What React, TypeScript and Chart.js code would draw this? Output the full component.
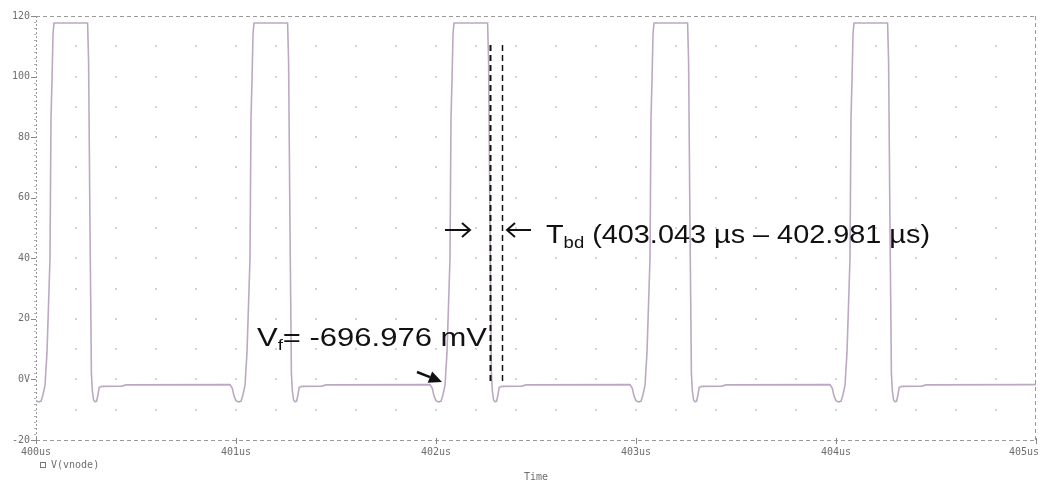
import React, { useEffect, useRef } from "react";
import { Chart, registerables } from "chart.js";

Chart.register(...registerables);

// ---- data (time in µs, voltage in V) ----
const P0_T = [400.000, 400.012, 400.025, 400.033, 400.040, 400.045, 400.055, 400.070, 400.075, 400.080, 400.085, 400.090, 400.258, 400.263, 400.270, 400.277, 400.282, 400.288, 400.295, 400.303, 400.310, 400.316, 400.330, 400.430, 400.450, 400.970];
const P0_V = [-7, -7.4, -7.2, -5.5, -3.5, -2, 9, 40, 86, 99, 114, 117.7, 117.7, 105, 50, 2, -4, -6.8, -7.4, -7.2, -5, -2.6, -2.3, -2.2, -1.8, -1.7];
const P1_T = [400.982, 400.990, 401.000, 401.012, 401.025, 401.033, 401.040, 401.045, 401.055, 401.070, 401.075, 401.080, 401.085, 401.090, 401.258, 401.263, 401.270, 401.277, 401.282, 401.288, 401.295, 401.303, 401.310, 401.316, 401.330, 401.430, 401.450, 401.970];
const P1_V = [-3, -5.5, -7, -7.4, -7.2, -5.5, -3.5, -2, 9, 40, 86, 99, 114, 117.7, 117.7, 105, 50, 2, -4, -6.8, -7.4, -7.2, -5, -2.6, -2.3, -2.2, -1.8, -1.7];
const P2_T = [401.982, 401.990, 402.000, 402.012, 402.025, 402.033, 402.040, 402.045, 402.055, 402.070, 402.075, 402.080, 402.085, 402.090, 402.258, 402.263, 402.270, 402.277, 402.282, 402.288, 402.295, 402.303, 402.310, 402.316, 402.330, 402.430, 402.450, 402.970];
const P2_V = [-3, -5.5, -7, -7.4, -7.2, -5.5, -3.5, -2, 9, 40, 86, 99, 114, 117.7, 117.7, 105, 50, 2, -4, -6.8, -7.4, -7.2, -5, -2.6, -2.3, -2.2, -1.8, -1.7];
const P3_T = [402.982, 402.990, 403.000, 403.012, 403.025, 403.033, 403.040, 403.045, 403.055, 403.070, 403.075, 403.080, 403.085, 403.090, 403.258, 403.263, 403.270, 403.277, 403.282, 403.288, 403.295, 403.303, 403.310, 403.316, 403.330, 403.430, 403.450, 403.970];
const P3_V = [-3, -5.5, -7, -7.4, -7.2, -5.5, -3.5, -2, 9, 40, 86, 99, 114, 117.7, 117.7, 105, 50, 2, -4, -6.8, -7.4, -7.2, -5, -2.6, -2.3, -2.2, -1.8, -1.7];
const P4_T = [403.982, 403.990, 404.000, 404.012, 404.025, 404.033, 404.040, 404.045, 404.055, 404.070, 404.075, 404.080, 404.085, 404.090, 404.258, 404.263, 404.270, 404.277, 404.282, 404.288, 404.295, 404.303, 404.310, 404.316, 404.330, 404.430, 404.450, 404.970, 405.000];
const P4_V = [-3, -5.5, -7, -7.4, -7.2, -5.5, -3.5, -2, 9, 40, 86, 99, 114, 117.7, 117.7, 105, 50, 2, -4, -6.8, -7.4, -7.2, -5, -2.6, -2.3, -2.2, -1.8, -1.7, -1.7];

const X_TICK_VALUES = [400, 401, 402, 403, 404, 405];
const X_TICK_LABELS = ["400us", "401us", "402us", "403us", "404us", "405us"];
const Y_TICK_VALUES = [120, 100, 80, 60, 40, 20, 0, -20];
const Y_TICK_LABELS = ["120", "100", "80", "60", "40", "20", "0V", "-20"];

const SERIES_NAME = "V(vnode)";
const X_TITLE = "Time";

// annotation anchors in data units
const CURSOR_T = [402.27, 402.33];
const CURSOR_V = [110.4, -1.2];
const TBD_PREFIX = "T";
const TBD_SUB = "bd";
const TBD_REST = " (403.043 µs – 402.981 µs)";
const VF_PREFIX = "V";
const VF_SUB = "f";
const VF_REST = "= -696.976 mV";

const FONT = '"Liberation Sans", Arial, sans-serif';
const TICK_FONT = '10px "DejaVu Sans Mono", monospace';

function stretchedText(ctx: CanvasRenderingContext2D, parts: { t: string; size: number; dy: number }[], x0: number, base: number, target: number) {
  let total = 0;
  const widths: number[] = [];
  for (const p of parts) {
    ctx.font = `${p.size}px ${FONT}`;
    const w = ctx.measureText(p.t).width;
    widths.push(w);
    total += w;
  }
  const sx = target / total;
  ctx.save();
  ctx.translate(x0, base);
  ctx.scale(sx, 1);
  ctx.fillStyle = "#111";
  ctx.textAlign = "left";
  ctx.textBaseline = "alphabetic";
  let cx = 0;
  parts.forEach((p, i) => {
    ctx.font = `${p.size}px ${FONT}`;
    ctx.fillText(p.t, cx, p.dy);
    cx += widths[i];
  });
  ctx.restore();
}

const overlay = {
  id: "overlay",
  beforeDatasetsDraw(chart: any) {
    const { ctx, chartArea, scales } = chart;
    const { left, right, top, bottom } = chartArea;
    const x = scales.x;
    const y = scales.y;
    ctx.save();
    // grid dots
    ctx.fillStyle = "#d2d2d2";
    for (let i = 1; i < 25; i++) {
      const px = x.getPixelForValue(400 + i * 0.2);
      for (let j = 1; j < 14; j++) {
        const py = y.getPixelForValue(-20 + j * 10);
        ctx.fillRect(Math.round(px) - 1, Math.round(py) - 1, 2, 2);
      }
    }
    // borders
    ctx.strokeStyle = "#9a9a9a";
    ctx.lineWidth = 1;
    ctx.setLineDash([4, 3]);
    ctx.beginPath();
    ctx.moveTo(left, top + 0.5);
    ctx.lineTo(right, top + 0.5);
    ctx.moveTo(right - 0.5, top);
    ctx.lineTo(right - 0.5, bottom);
    ctx.moveTo(left, bottom + 0.5);
    ctx.lineTo(right, bottom + 0.5);
    ctx.stroke();
    ctx.setLineDash([2, 2]);
    ctx.beginPath();
    ctx.moveTo(left + 0.5, top);
    ctx.lineTo(left + 0.5, bottom + 4);
    ctx.stroke();
    ctx.setLineDash([]);
    // minor ticks on left axis
    ctx.strokeStyle = "#b0b0b0";
    ctx.beginPath();
    for (let j = 0; j <= 70; j++) {
      const py = Math.round(y.getPixelForValue(-20 + j * 2)) + 0.5;
      ctx.moveTo(left - 2, py);
      ctx.lineTo(left, py);
    }
    ctx.stroke();
    // major ticks
    ctx.strokeStyle = "#888";
    ctx.beginPath();
    for (const v of Y_TICK_VALUES) {
      const py = Math.round(y.getPixelForValue(v)) + 0.5;
      ctx.moveTo(left - 5, py);
      ctx.lineTo(left, py);
    }
    for (const t of X_TICK_VALUES) {
      const px = Math.round(x.getPixelForValue(t)) + 0.5;
      ctx.moveTo(px, bottom - 2);
      ctx.lineTo(px, bottom + 4);
    }
    ctx.stroke();
    ctx.restore();
  },
  afterDraw(chart: any) {
    const { ctx, chartArea, scales } = chart;
    const { left, bottom } = chartArea;
    const x = scales.x;
    const y = scales.y;
    const W = chart.width;
    ctx.save();
    // tick labels
    ctx.font = TICK_FONT;
    ctx.fillStyle = "#6e6e6e";
    ctx.textBaseline = "middle";
    ctx.textAlign = "right";
    Y_TICK_VALUES.forEach((v, i) => {
      ctx.fillText(Y_TICK_LABELS[i], left - 6, y.getPixelForValue(v));
    });
    X_TICK_VALUES.forEach((t, i) => {
      const lbl = X_TICK_LABELS[i];
      const w = ctx.measureText(lbl).width;
      let cx = x.getPixelForValue(t);
      if (cx + w / 2 > W - 1) cx = W - 1 - w / 2;
      ctx.textAlign = "center";
      ctx.fillText(lbl, cx, bottom + 12);
    });
    // legend
    ctx.strokeStyle = "#777";
    ctx.lineWidth = 1;
    ctx.strokeRect(40.5, 462.5, 5, 5);
    ctx.textAlign = "left";
    ctx.fillText(SERIES_NAME, 51, 465);
    ctx.textAlign = "center";
    ctx.fillText(X_TITLE, (chartArea.left + chartArea.right) / 2, 477);

    // cursor dashed lines
    ctx.strokeStyle = "#111";
    ctx.setLineDash([6, 4]);
    CURSOR_T.forEach((t, i) => {
      const px = Math.round(x.getPixelForValue(t)) + 0.5;
      ctx.lineWidth = i === 0 ? 2 : 1.5;
      ctx.beginPath();
      ctx.moveTo(px, y.getPixelForValue(CURSOR_V[0]));
      ctx.lineTo(px, y.getPixelForValue(CURSOR_V[1]));
      ctx.stroke();
    });
    ctx.setLineDash([]);

    // open arrows → and ←
    const ay = y.getPixelForValue(49.3);
    ctx.lineWidth = 2;
    ctx.strokeStyle = "#111";
    const a1 = x.getPixelForValue(402.045), a2 = x.getPixelForValue(402.17);
    ctx.beginPath();
    ctx.moveTo(a1, ay); ctx.lineTo(a2, ay);
    ctx.moveTo(a2 - 8, ay - 7); ctx.lineTo(a2, ay); ctx.lineTo(a2 - 8, ay + 7);
    ctx.stroke();
    const b1 = x.getPixelForValue(402.355), b2 = x.getPixelForValue(402.475);
    ctx.beginPath();
    ctx.moveTo(b1, ay); ctx.lineTo(b2, ay);
    ctx.moveTo(b1 + 8, ay - 7); ctx.lineTo(b1, ay); ctx.lineTo(b1 + 8, ay + 7);
    ctx.stroke();

    // T_bd text
    stretchedText(ctx, [
      { t: TBD_PREFIX, size: 25, dy: 0 },
      { t: TBD_SUB, size: 16, dy: 5 },
      { t: TBD_REST, size: 25, dy: 0 },
    ], x.getPixelForValue(402.55), y.getPixelForValue(45.0), 384);

    // V_f text
    stretchedText(ctx, [
      { t: VF_PREFIX, size: 25, dy: 0 },
      { t: VF_SUB, size: 15, dy: 4 },
      { t: VF_REST, size: 25, dy: 0 },
    ], x.getPixelForValue(401.105), y.getPixelForValue(11.0), 230);

    // V_f filled arrow
    const sx = x.getPixelForValue(401.905), sy = y.getPixelForValue(2.45);
    const tx = x.getPixelForValue(402.03), ty = y.getPixelForValue(-0.85);
    const ang = Math.atan2(ty - sy, tx - sx);
    const hl = 13, hw = 6;
    const bx = tx - hl * Math.cos(ang), by = ty - hl * Math.sin(ang);
    ctx.lineWidth = 2.5;
    ctx.beginPath();
    ctx.moveTo(sx, sy); ctx.lineTo(bx, by);
    ctx.stroke();
    ctx.fillStyle = "#111";
    ctx.beginPath();
    ctx.moveTo(tx, ty);
    ctx.lineTo(bx + hw * Math.sin(ang), by - hw * Math.cos(ang));
    ctx.lineTo(bx - hw * Math.sin(ang), by + hw * Math.cos(ang));
    ctx.closePath();
    ctx.fill();
    ctx.restore();
  },
};

export default function App() {
  const ref = useRef<HTMLCanvasElement | null>(null);
  useEffect(() => {
    document.body.style.margin = "0";
    const T = [...P0_T, ...P1_T, ...P2_T, ...P3_T, ...P4_T];
    const V = [...P0_V, ...P1_V, ...P2_V, ...P3_V, ...P4_V];
    const pts = T.map((t, i) => ({ x: t, y: V[i] }));
    const chart = new Chart(ref.current as HTMLCanvasElement, {
      type: "line",
      data: {
        datasets: [
          {
            label: SERIES_NAME,
            data: pts,
            borderColor: "#bda8c4",
            borderWidth: 1.6,
            pointRadius: 0,
            tension: 0,
            fill: false,
          },
        ],
      },
      options: {
        animation: false,
        responsive: false,
        devicePixelRatio: 1,
        layout: { padding: { left: 36, right: 4, top: 16, bottom: 44 } },
        plugins: { legend: { display: false }, tooltip: { enabled: false } },
        scales: {
          x: { type: "linear", min: 400, max: 405, display: false },
          y: { type: "linear", min: -20, max: 120, display: false },
        },
      },
      plugins: [overlay],
    });
    return () => chart.destroy();
  }, []);
  return (
    <div style={{ position: "absolute", left: 0, top: 0, width: 1040, height: 484, background: "#fff" }}>
      <canvas ref={ref} width={1040} height={484} />
    </div>
  );
}
